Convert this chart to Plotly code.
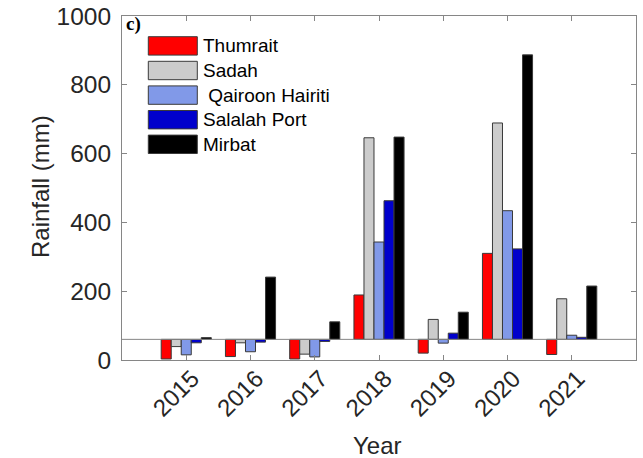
import plotly.graph_objects as go

years = [2015, 2016, 2017, 2018, 2019, 2020, 2021]
stations = ["Thumrait", "Sadah", " Qairoon Hairiti", "Salalah Port", "Mirbat"]
thumrait = [3, 10, 3, 189, 20, 310, 16]
sadah = [39, 50, 17, 646, 118, 689, 178]
qairoon = [15, 24, 9, 343, 49, 434, 72]
salalah = [50, 52, 54, 463, 78, 323, 66]
mirbat = [65, 241, 111, 648, 139, 887, 215]
BASE = 60
colors = ["#ff0000", "#cccccc", "#8199e8", "#0000cc", "#000000"]
series = [thumrait, sadah, qairoon, salalah, mirbat]

W, H = 643, 458
L, R, T, B = 122, 7, 16, 98
pw, ph = W - L - R, H - T - B

def px2x(px):
    return (px - L) / pw

def py2y(py):
    return (H - B - py) / ph

fig = go.Figure()
for name, vals, c in zip(stations, series, colors):
    fig.add_trace(go.Bar(
        x=years, y=[v - BASE for v in vals], base=BASE, name=name,
        marker=dict(color=c, line=dict(color="#3a3a3a", width=1)),
        showlegend=False))

font = "Liberation Sans, Arial, sans-serif"
axcol = "#868686"
fig.update_layout(
    width=W, height=H, margin=dict(l=L, r=R, t=T, b=B),
    paper_bgcolor="white", plot_bgcolor="white",
    barmode="group", bargap=0.22, bargroupgap=0,
    font=dict(family=font, color="#262626"),
    xaxis=dict(range=[2014, 2022], tickvals=years, ticktext=[str(y) for y in years],
               tickangle=-45, ticks="inside", ticklen=5, tickcolor=axcol,
               showline=True, linecolor=axcol, linewidth=1, mirror="ticks",
               showgrid=False, zeroline=False, tickfont=dict(size=24),
               ticklabelshift=6, ticklabelstandoff=-6,
               ticklabeloverflow="allow", automargin=False),
    yaxis=dict(range=[0, 1000], tickvals=[0, 200, 400, 600, 800, 1000],
               ticks="inside", ticklen=5, tickcolor=axcol,
               showline=True, linecolor=axcol, linewidth=1, mirror="ticks",
               showgrid=False, zeroline=False, tickfont=dict(size=24.5),
               ticklabelstandoff=5, ticklabeloverflow="allow", automargin=False),
)

# axis titles
fig.add_annotation(xref="paper", yref="paper", x=px2x(377), y=py2y(445), text="Year",
                   showarrow=False, xanchor="center", yanchor="middle",
                   font=dict(size=24, family=font, color="#262626"))
fig.add_annotation(xref="paper", yref="paper", x=px2x(40), y=py2y(187), text="Rainfall (mm)",
                   showarrow=False, xanchor="center", yanchor="middle", textangle=-90,
                   font=dict(size=24, family=font, color="#262626"))

# baseline reference line
fig.add_shape(type="line", xref="paper", x0=0, x1=1, yref="y", y0=BASE, y1=BASE,
              line=dict(color=axcol, width=1))

# custom legend
sw_x0, sw_x1 = px2x(148.3), px2x(197.3)
top0, sh, pitch = 36.7, 18.4, 24.6
for i, (name, c) in enumerate(zip(stations, colors)):
    t = top0 + i * pitch
    fig.add_shape(type="rect", xref="paper", yref="paper",
                  x0=sw_x0, x1=sw_x1, y0=py2y(t + sh), y1=py2y(t),
                  fillcolor=c, line=dict(color="#3a3a3a", width=1))
    fig.add_annotation(xref="paper", yref="paper", x=px2x(201), y=py2y(t + sh / 2),
                       text=name.replace(" ", "&nbsp;", 1) if name.startswith(" ") else name,
                       showarrow=False, xanchor="left", yanchor="middle",
                       font=dict(size=19, family=font, color="#000000"))

fig.add_annotation(xref="paper", yref="paper", x=px2x(124), y=py2y(24), text="<b>c)</b>",
                   showarrow=False, xanchor="left", yanchor="middle",
                   font=dict(size=19, family="Liberation Serif, Times New Roman, serif", color="#000000"))

fig.write_html("out.html", config={"displayModeBar": False},
               post_script="document.body.style.margin='0';")
